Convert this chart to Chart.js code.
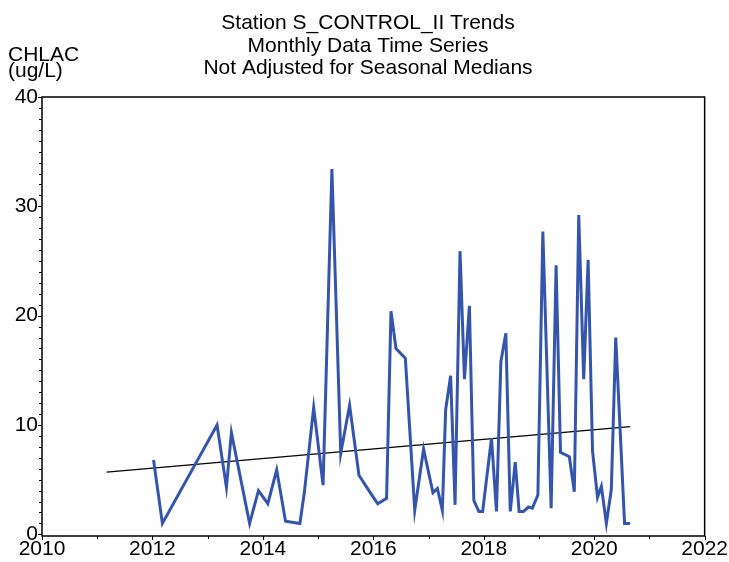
<!DOCTYPE html>
<html>
<head>
<meta charset="utf-8">
<script src="https://cdn.jsdelivr.net/npm/chart.js@4"></script>
<style>
  html, body { margin: 0; padding: 0; background: #fff; }
  #wrap { width: 729px; height: 562px; position: relative; }
</style>
</head>
<body>
<div id="wrap"><canvas id="trend-chart"></canvas></div>
<script>
// Sample dates (decimal years) and CHLAC values
const sampleYears = [
  2012.02, 2012.18, 2013.17, 2013.34, 2013.43, 2013.76, 2013.92, 2014.09, 2014.25, 2014.41,
  2014.67, 2014.75, 2014.92, 2015.09, 2015.25, 2015.41, 2015.57, 2015.74, 2015.92, 2016.08,
  2016.24, 2016.32, 2016.41, 2016.58, 2016.75, 2016.91, 2017.08, 2017.16, 2017.25, 2017.31,
  2017.40, 2017.48, 2017.57, 2017.65, 2017.74, 2017.82, 2017.91, 2017.98, 2018.14, 2018.23,
  2018.31, 2018.40, 2018.48, 2018.57, 2018.64, 2018.72, 2018.81, 2018.88, 2018.98, 2019.07,
  2019.22, 2019.31, 2019.39, 2019.55, 2019.64, 2019.72, 2019.81, 2019.89, 2019.97, 2020.06,
  2020.13, 2020.22, 2020.31, 2020.39, 2020.55, 2020.65
];
const chlacValues = [
  6.8, 1.0, 10.0, 4.3, 9.3, 1.0, 4.0, 2.8, 5.9, 1.2,
  1.0, 3.8, 11.6, 4.5, 33.4, 7.4, 11.8, 5.4, 4.0, 2.8,
  3.3, 20.4, 17.0, 16.1, 2.2, 7.8, 3.8, 4.2, 2.2, 11.4,
  14.5, 2.7, 25.9, 14.2, 20.9, 3.1, 2.1, 2.1, 8.8, 2.1,
  15.8, 18.4, 2.1, 6.6, 2.1, 2.1, 2.5, 2.4, 3.6, 27.7,
  2.4, 24.6, 7.5, 7.1, 3.9, 29.2, 14.2, 25.1, 7.6, 3.4,
  4.4, 1.0, 4.1, 18.0, 1.0, 1.0
];

// Trend line end points
const trendYears = [2011.17, 2020.65];
const trendValues = [5.7, 9.85];

const xTicks = [2010, 2012, 2014, 2016, 2018, 2020, 2022];
const yTicks = [0, 10, 20, 30, 40];

const titleLines = ['Station S_CONTROL_II Trends', 'Monthly Data Time Series', 'Not Adjusted for Seasonal Medians'];
const unitLines = ['CHLAC', '(ug/L)'];

const FONT = '"Liberation Sans", Arial, sans-serif';

// frame, minor/major ticks and the header text
const framePlugin = {
  id: 'frame',
  afterDraw(chart) {
    const ctx = chart.ctx;
    const a = chart.chartArea;
    const xs = chart.scales.x, ys = chart.scales.y;
    ctx.save();
    ctx.strokeStyle = '#000';
    ctx.lineWidth = 1.5;
    ctx.strokeRect(a.left, a.top, a.right - a.left, a.bottom - a.top);

    ctx.lineWidth = 1;
    ctx.beginPath();
    for (let v = 0; v <= 40; v++) {
      const y = Math.round(ys.getPixelForValue(v)) + 0.5;
      const len = v % 10 === 0 ? 4 : 3;
      ctx.moveTo(a.left, y);
      ctx.lineTo(a.left - len, y);
    }
    for (let yr = 2010; yr <= 2022; yr++) {
      const x = Math.round(xs.getPixelForValue(yr)) + 0.5;
      const len = yr % 2 === 0 ? 4 : 3;
      ctx.moveTo(x, a.bottom);
      ctx.lineTo(x, a.bottom + len);
    }
    ctx.stroke();

    ctx.fillStyle = '#000';
    ctx.font = '21px ' + FONT;
    ctx.textAlign = 'center';
    ctx.textBaseline = 'alphabetic';
    const baselines = [29, 52, 74];
    titleLines.forEach((t, i) => ctx.fillText(t, 368, baselines[i]));

    ctx.textAlign = 'left';
    unitLines.forEach((t, i) => ctx.fillText(t, 8, 61 + i * 16));
    ctx.restore();
  }
};

const ctx = document.getElementById('trend-chart').getContext('2d');
new Chart(ctx, {
  type: 'line',
  data: {
    datasets: [{
      label: 'CHLAC',
      data: sampleYears.map((yr, i) => ({ x: yr, y: chlacValues[i] })),
      borderColor: '#3455ab',
      borderWidth: 3,
      pointRadius: 0,
      tension: 0,
      fill: false
    }, {
      label: 'Trend',
      data: trendYears.map((yr, i) => ({ x: yr, y: trendValues[i] })),
      borderColor: '#000',
      borderWidth: 1.3,
      pointRadius: 0,
      fill: false
    }]
  },
  options: {
    responsive: true,
    maintainAspectRatio: false,
    animation: false,
    layout: { padding: { top: 97, right: 23, left: 0, bottom: 0 } },
    plugins: {
      legend: { display: false },
      title: { display: false },
      tooltip: { enabled: false }
    },
    scales: {
      x: {
        type: 'linear',
        min: 2010,
        max: 2022,
        afterBuildTicks: s => { s.ticks = xTicks.map(v => ({ value: v })); },
        afterFit: s => { s.height = 26; },
        grid: { display: false, drawTicks: false },
        border: { display: false },
        ticks: {
          color: '#000',
          font: { family: FONT, size: 21 },
          padding: 1,
          maxRotation: 0,
          autoSkip: false,
          callback: v => String(v)
        }
      },
      y: {
        min: -0.15,
        max: 40,
        afterBuildTicks: s => { s.ticks = yTicks.map(v => ({ value: v })); },
        afterFit: s => { s.width = 42; },
        grid: { display: false, drawTicks: false },
        border: { display: false },
        ticks: {
          color: '#000',
          font: { family: FONT, size: 21 },
          padding: 4,
          callback: v => String(v)
        }
      }
    }
  },
  plugins: [framePlugin]
});
</script>
</body>
</html>
